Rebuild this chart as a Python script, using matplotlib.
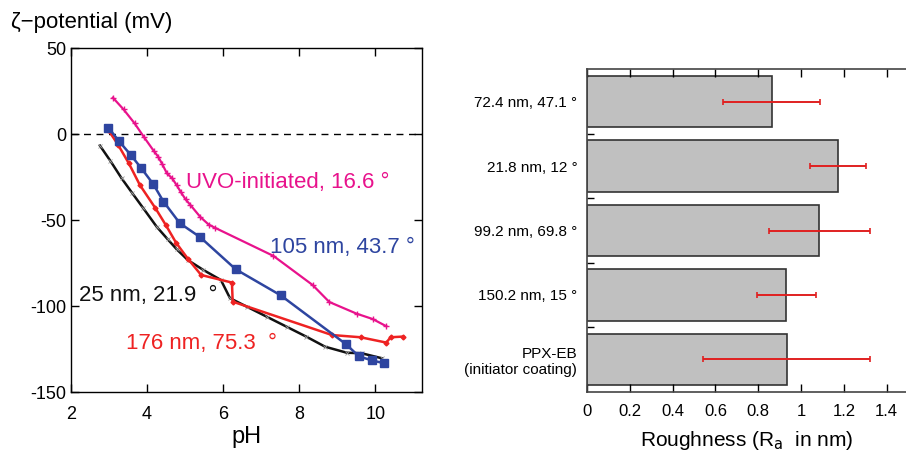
import matplotlib
matplotlib.use('Agg')
import matplotlib.pyplot as plt

plt.rcParams['font.family'] = ['Liberation Sans', 'DejaVu Sans']
plt.rcParams['axes.unicode_minus'] = False

# zeta potential vs pH
uvo_ph = [3.10, 3.38, 3.67, 3.92, 4.17, 4.29, 4.40, 4.52, 4.66, 4.78, 4.89, 5.01, 5.13,
          5.40, 5.62, 5.78, 7.32, 8.35, 8.79, 9.51, 9.93, 10.29]
uvo_zeta = [21.3, 14.5, 6.4, -1.7, -9.5, -13.0, -17.4, -22.7, -25.6, -29.7, -33.7, -37.8,
            -40.9, -48.1, -52.5, -54.3, -70.7, -87.6, -97.5, -104.3, -107.4, -111.6]

n105_ph = [2.98, 3.25, 3.57, 3.85, 4.16, 4.43, 4.86, 5.40, 6.33, 7.51, 9.22, 9.57, 9.90, 10.23]
n105_zeta = [3.9, -3.7, -12.0, -19.8, -28.9, -39.1, -51.7, -59.9, -78.5, -93.6, -121.9,
             -129.1, -131.4, -133.1]

n176_ph = [2.98, 3.24, 3.52, 3.81, 4.22, 4.49, 4.76, 5.07, 5.42, 6.23, 6.25, 8.86, 9.61,
           10.29, 10.40, 10.73]
n176_zeta = [2.5, -6.2, -16.9, -29.5, -43.0, -52.7, -63.0, -72.3, -81.8, -86.2, -97.3,
             -116.7, -118.0, -121.1, -118.0, -117.6]

n25_ph = [2.76, 3.03, 3.33, 3.60, 3.90, 4.25, 4.54, 4.78, 5.07, 5.48, 5.94, 6.18, 6.62,
          7.14, 7.67, 8.19, 8.68, 9.25, 9.64, 10.17]
n25_zeta = [-6.6, -15.3, -25.6, -33.9, -43.0, -53.7, -61.0, -66.9, -73.1, -78.9, -84.7,
            -95.3, -100.2, -106.0, -111.9, -117.7, -123.5, -127.0, -127.3, -130.2]

# roughness bars (top to bottom)
samples = ['72.4 nm, 47.1 °', '21.8 nm, 12 °', '99.2 nm, 69.8 °', '150.2 nm, 15 °',
           'PPX-EB\n(initiator coating)']
roughness = [0.863, 1.173, 1.086, 0.932, 0.933]
rough_err = [0.226, 0.132, 0.237, 0.137, 0.389]

fig = plt.figure(figsize=(9.06, 4.54), dpi=100)

ax = fig.add_axes([0.0784, 0.1359, 0.3871, 0.7577])
ax.axhline(0, color='k', lw=1, ls=(0, (5, 4)))
ax.plot(n25_ph, n25_zeta, color='#111111', lw=1.8, marker='x', ms=3, mec='#999999', mew=0.6)
ax.plot(n176_ph, n176_zeta, color='#ee2222', lw=1.8, marker='D', ms=2.5)
ax.plot(n105_ph, n105_zeta, color='#2e45a0', lw=1.8, marker='s', ms=5.5)
ax.plot(uvo_ph, uvo_zeta, color='#e8128c', lw=1.6, marker='+', ms=5, mew=1)
ax.set_xlim(2, 11.22)
ax.set_ylim(-150, 50)
ax.set_xticks([2, 4, 6, 8, 10])
ax.set_yticks([-150, -100, -50, 0, 50])
ax.tick_params(direction='in', top=True, right=True, labelsize=13, length=6, width=1)
ax.tick_params(axis='x', pad=10)
ax.set_xlabel('pH', fontsize=17, labelpad=2)
for s in ax.spines.values():
    s.set_linewidth(1)
fig.text(0.012, 0.95, 'ζ−potential (mV)', fontsize=16, va='center')

ax.text(5.01, -28.1, 'UVO-initiated, 16.6 °', color='#e8128c', fontsize=16, va='center')
ax.text(7.23, -65.9, '105 nm, 43.7 °', color='#2e45a0', fontsize=16, va='center')
ax.text(2.20, -94.0, '25 nm, 21.9  °', color='#111111', fontsize=16, va='center')
ax.text(3.45, -121.5, '176 nm, 75.3  °', color='#ee2222', fontsize=16, va='center')

ax2 = fig.add_axes([0.6479, 0.1372, 0.3532, 0.7101])
ypos = list(range(len(samples)))
ax2.barh(ypos, roughness, height=0.8, color='#c0c0c0', edgecolor='#333333', lw=1.2)
ax2.errorbar(roughness, ypos, xerr=rough_err, fmt='none', ecolor='#e02020',
             elinewidth=1.4, capsize=2.5, capthick=1.2)
ax2.set_ylim(4.5, -0.5)
ax2.set_xlim(0, 1.495)
ax2.set_yticks(ypos)
ax2.set_yticklabels(samples, fontsize=11)
ax2.set_yticks([0.5, 1.5, 2.5, 3.5], minor=True)
ax2.tick_params(axis='y', which='major', length=0, pad=7)
ax2.tick_params(axis='y', which='minor', direction='in', length=5, width=1)
ax2.set_xticks([0, 0.2, 0.4, 0.6, 0.8, 1.0, 1.2, 1.4])
ax2.set_xticklabels(['0', '0.2', '0.4', '0.6', '0.8', '1', '1.2', '1.4'])
ax2.tick_params(axis='x', direction='in', top=True, labelsize=12, length=6, width=1, pad=9)
ax2.set_xlabel('Roughness (R$_{\\mathrm{a}}$  in nm)', fontsize=15, labelpad=7)
ax2.spines['right'].set_visible(False)
for s in ['left', 'top', 'bottom']:
    ax2.spines[s].set_color('#444444')
    ax2.spines[s].set_linewidth(1.2)

fig.savefig('out.png', dpi=100)
